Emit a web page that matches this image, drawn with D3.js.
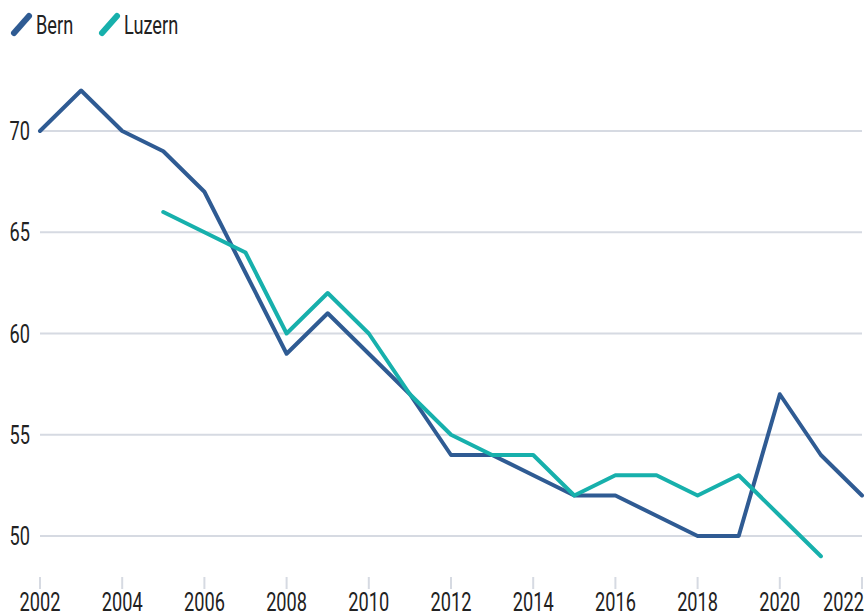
<!DOCTYPE html>
<html lang="en">
<head>
  <meta charset="UTF-8">
  <script src="https://cdn.jsdelivr.net/npm/d3@7"></script>
  <style>
    body { margin: 0; background: #fff; }
    svg { display: block; }
    text { font-family: "Roboto", "DejaVu Sans Condensed", sans-serif; fill: #222; font-size: 26px; }
    .grid line { stroke: #d6dae2; stroke-width: 2; }
  </style>
</head>
<body>
<div id="chart"></div>
<script>
  // data
  var years = d3.range(2002, 2023);
  var bern = [70, 72, 70, 69, 67, 63, 59, 61, 59, 57, 54, 54, 53, 52, 52, 51, 50, 50, 57, 54, 52];
  var luzernYears = d3.range(2005, 2022);
  var luzern = [66, 65, 64, 60, 62, 60, 57, 55, 54, 54, 52, 53, 53, 52, 53, 51, 49];
  var yTicks = [50, 55, 60, 65, 70];
  var xTicks = d3.range(2002, 2023, 2);

  var width = 866, height = 615;
  var squeeze = 0.7; // condensed look

  var x = d3.scaleLinear().domain([2002, 2022]).range([40, 862]);
  var y = d3.scaleLinear().domain([50, 70]).range([536, 131]);

  var svg = d3.select("#chart").append("svg")
    .attr("width", width)
    .attr("height", height);

  function place(px, py) {
    return "translate(" + px + "," + py + ") scale(" + squeeze + ",1)";
  }

  // gridlines
  svg.append("g").attr("class", "grid")
    .selectAll("line")
    .data(yTicks)
    .enter().append("line")
    .attr("x1", x(2002))
    .attr("x2", x(2022))
    .attr("y1", function(d) { return y(d); })
    .attr("y2", function(d) { return y(d); });

  // y labels
  svg.append("g")
    .selectAll("text")
    .data(yTicks)
    .enter().append("text")
    .attr("transform", function(d) { return place(30, y(d) + 9); })
    .style("text-anchor", "end")
    .text(function(d) { return d; });

  // x axis ticks + labels
  svg.append("g").attr("class", "grid")
    .selectAll("line")
    .data(xTicks)
    .enter().append("line")
    .attr("x1", function(d) { return x(d); })
    .attr("x2", function(d) { return x(d); })
    .attr("y1", 577)
    .attr("y2", 589);

  svg.append("g")
    .selectAll("text")
    .data(xTicks)
    .enter().append("text")
    .attr("transform", function(d) {
      return d === 2022 ? place(864, 611) : place(x(d), 611);
    })
    .style("text-anchor", function(d) { return d === 2022 ? "end" : "middle"; })
    .text(function(d) { return d; });

  var line = d3.line()
    .x(function(d) { return x(d[0]); })
    .y(function(d) { return y(d[1]); });

  svg.append("path")
    .datum(years.map(function(yr, i) { return [yr, bern[i]]; }))
    .attr("d", line)
    .attr("fill", "none")
    .attr("stroke", "#2f5b93")
    .attr("stroke-width", 4)
    .attr("stroke-linejoin", "round")
    .attr("stroke-linecap", "round");

  svg.append("path")
    .datum(luzernYears.map(function(yr, i) { return [yr, luzern[i]]; }))
    .attr("d", line)
    .attr("fill", "none")
    .attr("stroke", "#17b0ac")
    .attr("stroke-width", 4)
    .attr("stroke-linejoin", "round")
    .attr("stroke-linecap", "round");

  // legend
  var legend = [{name: "Bern", color: "#2f5b93", x: 14}, {name: "Luzern", color: "#17b0ac", x: 102}];
  var lg = svg.append("g").selectAll("g").data(legend).enter().append("g")
    .attr("transform", function(d) { return "translate(" + d.x + ",0)"; });
  lg.append("line")
    .attr("x1", 0).attr("y1", 33)
    .attr("x2", 15).attr("y2", 16)
    .attr("stroke", function(d) { return d.color; })
    .attr("stroke-width", 6)
    .attr("stroke-linecap", "round");
  lg.append("text")
    .attr("transform", place(22, 34))
    .text(function(d) { return d.name; });
</script>
</body>
</html>
